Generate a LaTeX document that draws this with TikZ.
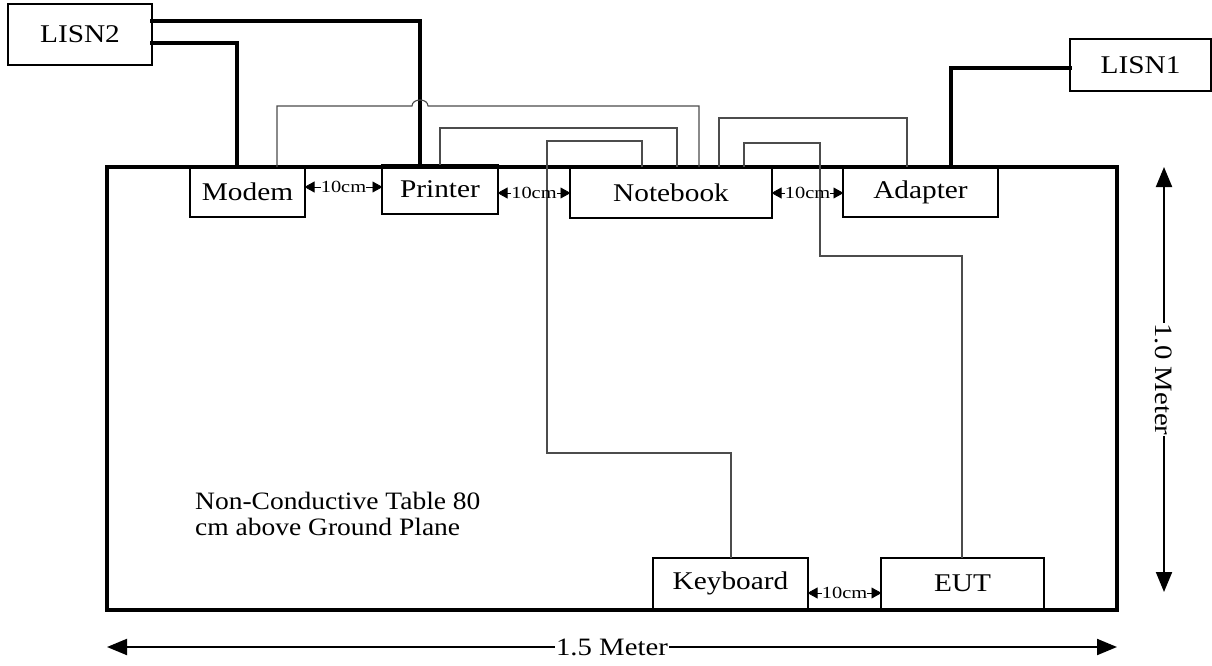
\documentclass[tikz,border=0pt]{standalone}
\usepackage{fontspec}
\setmainfont[FakeStretch=1.15]{Liberation Serif}
\newfontfamily\gapfont[FakeStretch=1.2]{Liberation Serif}
\newfontfamily\notefont[FakeStretch=1.1]{Liberation Serif}
\usetikzlibrary{arrows.meta}

\tikzset{
  unitbox/.style={draw, line width=2pt, inner sep=0pt, outer sep=0pt,
    font=\fontsize{25.5}{27}\selectfont},
  tablebox/.style={draw, line width=4pt, inner sep=0pt, outer sep=0pt},
  power/.style={line width=4pt, line cap=rect},
  cable/.style={line width=1.1pt, draw=black!70},
  gaplabel/.style={inner sep=0pt, font=\gapfont\fontsize{17}{18}\selectfont},
  gaptip/.style={-{Triangle[length=10pt,width=11pt]}, line width=0.6pt, shorten >=-0.5pt},
  dim/.style={line width=2pt, {Triangle[length=20pt,width=16pt]}-{Triangle[length=20pt,width=16pt]}},
  dimlabel/.style={fill=white, inner xsep=1pt, inner ysep=0pt,
    font=\fontsize{25}{27}\selectfont}
}

\begin{document}
\begin{tikzpicture}[x=1pt,y=-1pt]
\useasboundingbox (0,0) rectangle (1212,666);

% equipment on the table
\node[unitbox, minimum width=115pt, minimum height=50pt] (modem)    at (247.5,192)   {Modem};
\node[unitbox, minimum width=116pt, minimum height=49pt] (printer)  at (440,189.5)   {Printer};
\node[unitbox, minimum width=202pt, minimum height=51pt] (notebook) at (671,192.5)   {Notebook};
\node[unitbox, minimum width=155pt, minimum height=50pt] (adapter)  at (920.5,192)   {Adapter};
\node[unitbox, minimum width=155pt, minimum height=51pt] (keyboard) at (730.5,583.5) {Keyboard};
\node[unitbox, minimum width=163pt, minimum height=51pt] (eut)      at (962.5,583.5) {EUT};

% line impedance stabilisation networks
\node[unitbox, minimum width=144pt, minimum height=61pt] (lisn2) at (80,34.5)   {LISN2};
\node[unitbox, minimum width=141pt, minimum height=52pt] (lisn1) at (1140.5,65) {LISN1};

% the table itself
\node[tablebox, minimum width=1010pt, minimum height=443pt] (table) at (612,388.5) {};

% power leads
\draw[power] ([yshift=13.5pt]lisn2.east) -| ([xshift=38pt]printer.north west);
\draw[power] ([yshift=-8.5pt]lisn2.east) -| ([xshift=47pt]modem.north west);
\draw[power] ([xshift=108pt]adapter.north west) |- ([yshift=-3pt]lisn1.west);

% signal cables
\draw[cable] ([xshift=87pt]modem.north west) |- (412,106)
  .. controls (412,98) and (428,98) .. (428,106)
  -| ([xshift=129pt]notebook.north west);
\draw[cable] ([xshift=58pt]printer.north west) -- ++(0,-37)
  -| ([xshift=107pt]notebook.north west);
\draw[cable] ([xshift=72pt]notebook.north west) -- ++(0,-26)
  -| (547,453) -| ([xshift=78pt]keyboard.north west);
\draw[cable] ([xshift=149pt]notebook.north west) -- ++(0,-49)
  -| ([xshift=64pt]adapter.north west);
\draw[cable] ([xshift=174pt]notebook.north west) -- ++(0,-24)
  -| (820,256) -| ([xshift=81pt]eut.north west);

% 10 cm spacings
\node[gaplabel] (g1) at (343.5,187) {10cm};
\draw[gaptip] (g1.west) -- (modem.east |- g1.west);
\draw[gaptip] (g1.east) -- (printer.west |- g1.east);
\node[gaplabel] (g2) at (534,193) {10cm};
\draw[gaptip] (g2.west) -- (printer.east |- g2.west);
\draw[gaptip] (g2.east) -- (notebook.west |- g2.east);
\node[gaplabel] (g3) at (807.5,193) {10cm};
\draw[gaptip] (g3.west) -- (notebook.east |- g3.west);
\draw[gaptip] (g3.east) -- (adapter.west |- g3.east);
\node[gaplabel] (g4) at (844.5,593) {10cm};
\draw[gaptip] (g4.west) -- (keyboard.east |- g4.west);
\draw[gaptip] (g4.east) -- (eut.west |- g4.east);

% table note
\node[anchor=west, align=left, inner sep=0pt,
      font=\notefont\fontsize{25}{26}\selectfont] (note) at (195,514)
  {Non-Conductive Table 80\\cm above Ground Plane};

% overall dimensions
\draw[dim] ([xshift=47pt]table.north east) -- ([xshift=47pt,yshift=18pt]table.south east)
  node[midway, rotate=-90, dimlabel] (height) {1.0 Meter};
\draw[dim] ([yshift=-37pt]table.south west) -- ([yshift=-37pt]table.south east)
  node[midway, dimlabel] (width) {1.5 Meter};
\end{tikzpicture}
\end{document}
